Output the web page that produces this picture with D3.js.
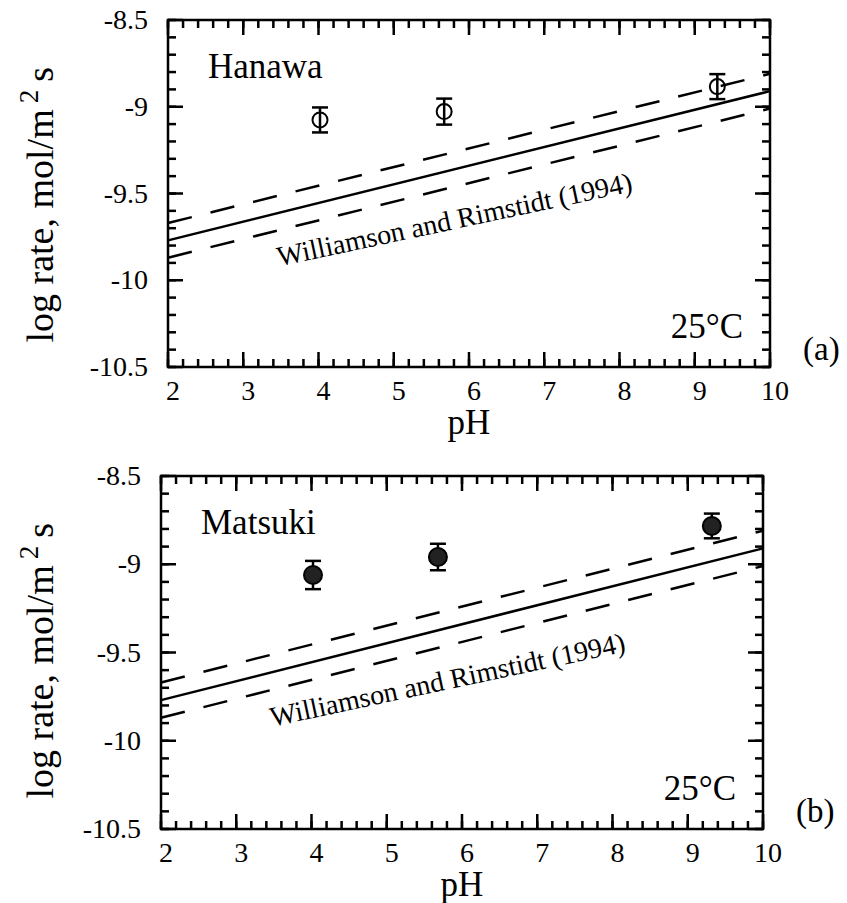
<!DOCTYPE html>
<html>
<head>
<meta charset="utf-8">
<script src="https://cdn.jsdelivr.net/npm/d3@7"></script>
<style>
	body { margin: 0; background: #fff; }
	svg { display: block; }
</style>
</head>
<body>
<div id="chart"></div>
<script>
// axes
const phDomain = [2, 10];
const rateDomain = [-10.5, -8.5];
const phTicks = [2, 3, 4, 5, 6, 7, 8, 9, 10];
const rateTicks = [-10.5, -10, -9.5, -9, -8.5];
const rateTickLabels = ['-10.5', '-10', '-9.5', '-9', '-8.5'];

// measured rates (log mol/m2 s) with error
const hanawaPH = [4.02, 5.67, 9.3];
const hanawaRate = [-9.076, -9.028, -8.884];
const hanawaErr = [0.072, 0.075, 0.072];

const matsukiPH = [4.02, 5.68, 9.32];
const matsukiRate = [-9.061, -8.959, -8.783];
const matsukiErr = [0.08, 0.075, 0.07];

// williamson & rimstidt rate law with its band
const wrPH = [2, 10];
const wrRate = [-9.77, -8.91];
const wrUpper = [-9.67, -8.81];
const wrLower = [-9.87, -9.01];
const wrLabel = 'Williamson and Rimstidt (1994)';
const wrLabelAt = [3.48, -9.92];

const W = 847;
const H = 903;
const MAJOR = 15;
const MINOR = 8;
const FONT = "'Liberation Serif', 'Times New Roman', Times, serif";

const panels = [
	{ name: 'Hanawa', tag: '(a)', ph: hanawaPH, rate: hanawaRate, err: hanawaErr, filled: false,
		left: 168, top: 20, width: 602, height: 347 },
	{ name: 'Matsuki', tag: '(b)', ph: matsukiPH, rate: matsukiRate, err: matsukiErr, filled: true,
		left: 161, top: 476, width: 602, height: 353 }
];

const $svg = d3.select('#chart').append('svg')
	.attr('width', W)
	.attr('height', H)
	.style('font-family', FONT);

function label($g, x, y, size, str) {
	return $g.append('text')
		.attr('x', x)
		.attr('y', y)
		.style('font-family', FONT)
		.style('font-size', `${size}px`)
		.attr('fill', '#000')
		.text(str);
}

function drawPanel(p) {
	const $g = $svg.append('g').attr('transform', `translate(${p.left},${p.top})`);
	const x = d3.scaleLinear().domain(phDomain).range([0, p.width]);
	const y = d3.scaleLinear().domain(rateDomain).range([p.height, 0]);

	// inward tick marks on all four sides
	const xt = [
		...x.ticks(40).map(v => ({ v, len: MINOR })),
		...phTicks.map(v => ({ v, len: MAJOR }))
	];
	const yt = [
		...y.ticks(20).map(v => ({ v, len: MINOR })),
		...rateTicks.map(v => ({ v, len: MAJOR }))
	];
	const $t = $g.append('g').attr('class', 'ticks').attr('fill', '#000');
	$t.selectAll('.tb').data(xt).join('rect').attr('class', 'tb')
		.attr('x', d => x(d.v) - 1.25).attr('y', d => p.height - d.len)
		.attr('width', 2.5).attr('height', d => d.len);
	$t.selectAll('.tt').data(xt).join('rect').attr('class', 'tt')
		.attr('x', d => x(d.v) - 1.25).attr('y', 0)
		.attr('width', 2.5).attr('height', d => d.len);
	$t.selectAll('.tl').data(yt).join('rect').attr('class', 'tl')
		.attr('x', 0).attr('y', d => y(d.v) - 1.25)
		.attr('width', d => d.len).attr('height', 2.5);
	$t.selectAll('.tr').data(yt).join('rect').attr('class', 'tr')
		.attr('x', d => p.width - d.len).attr('y', d => y(d.v) - 1.25)
		.attr('width', d => d.len).attr('height', 2.5);

	// tick labels
	$g.selectAll('.xl')
		.data(phTicks)
		.join('text')
		.attr('class', 'xl')
		.attr('x', d => x(d) + 5)
		.attr('y', p.height + 33)
		.attr('text-anchor', 'middle')
		.style('font-family', FONT)
		.style('font-size', '28px')
		.text(d3.format('d'));
	$g.selectAll('.yl')
		.data(rateTicks)
		.join('text')
		.attr('class', 'yl')
		.attr('x', -20)
		.attr('y', d => y(d) + 9)
		.attr('text-anchor', 'end')
		.style('font-family', FONT)
		.style('font-size', '28px')
		.text((d, i) => rateTickLabels[i]);

	$g.append('rect')
		.attr('width', p.width)
		.attr('height', p.height)
		.attr('fill', 'none')
		.attr('stroke', '#000')
		.attr('stroke-width', 2.5);

	// rate law lines
	const line = d3.line().x(d => x(d[0])).y(d => y(d[1]));
	const band = [
		{ vals: wrRate, dash: null },
		{ vals: wrUpper, dash: '24.5,19.3' },
		{ vals: wrLower, dash: '24.5,19.3' }
	];
	$g.selectAll('.wr')
		.data(band)
		.join('path')
		.attr('class', 'wr')
		.attr('d', d => line(d3.zip(wrPH, d.vals)))
		.attr('fill', 'none')
		.attr('stroke', '#000')
		.attr('stroke-width', 2.5)
		.attr('stroke-dasharray', d => d.dash);

	label($g, 0, 0, 28, wrLabel)
		.attr('transform', `translate(${x(wrLabelAt[0])},${y(wrLabelAt[1])}) rotate(-12)`);

	// data points with error bars
	const pts = d3.zip(p.ph, p.rate, p.err);
	const $p = $g.selectAll('.pt').data(pts).join('g').attr('class', 'pt');
	$p.append('line')
		.attr('x1', d => x(d[0])).attr('x2', d => x(d[0]))
		.attr('y1', d => y(d[1] - d[2])).attr('y2', d => y(d[1] + d[2]));
	[-1, 1].forEach(k => {
		$p.append('line')
			.attr('x1', d => x(d[0]) - 8).attr('x2', d => x(d[0]) + 8)
			.attr('y1', d => y(d[1] + k * d[2])).attr('y2', d => y(d[1] + k * d[2]));
	});
	$p.selectAll('line').attr('stroke', '#000').attr('stroke-width', 2.5);
	$p.append('circle')
		.attr('cx', d => x(d[0]))
		.attr('cy', d => y(d[1]))
		.attr('r', p.filled ? 9 : 7.5)
		.attr('fill', p.filled ? '#222' : 'none')
		.attr('stroke', '#000')
		.attr('stroke-width', 2);

	// panel texts
	label($g, 40, 58, 35, p.name);
	label($g, p.width - 27, p.height - 29, 35, '25°C').attr('text-anchor', 'end');
	label($g, p.width + 33, p.height - 7, 33, p.tag);
	label($g, p.width / 2, p.height + 67, 35, 'pH').attr('text-anchor', 'middle');

	const $yl = label($g, 0, 0, 38, null)
		.attr('transform', `translate(${53 - p.left},47) rotate(-90)`)
		.attr('text-anchor', 'end');
	$yl.append('tspan').text('log rate, mol/m');
	$yl.append('tspan').attr('dy', -15).attr('dx', 6).style('font-size', '27px').text('2');
	$yl.append('tspan').attr('dy', 15).attr('dx', 8).text('s');
}

panels.forEach(drawPanel);
</script>
</body>
</html>
